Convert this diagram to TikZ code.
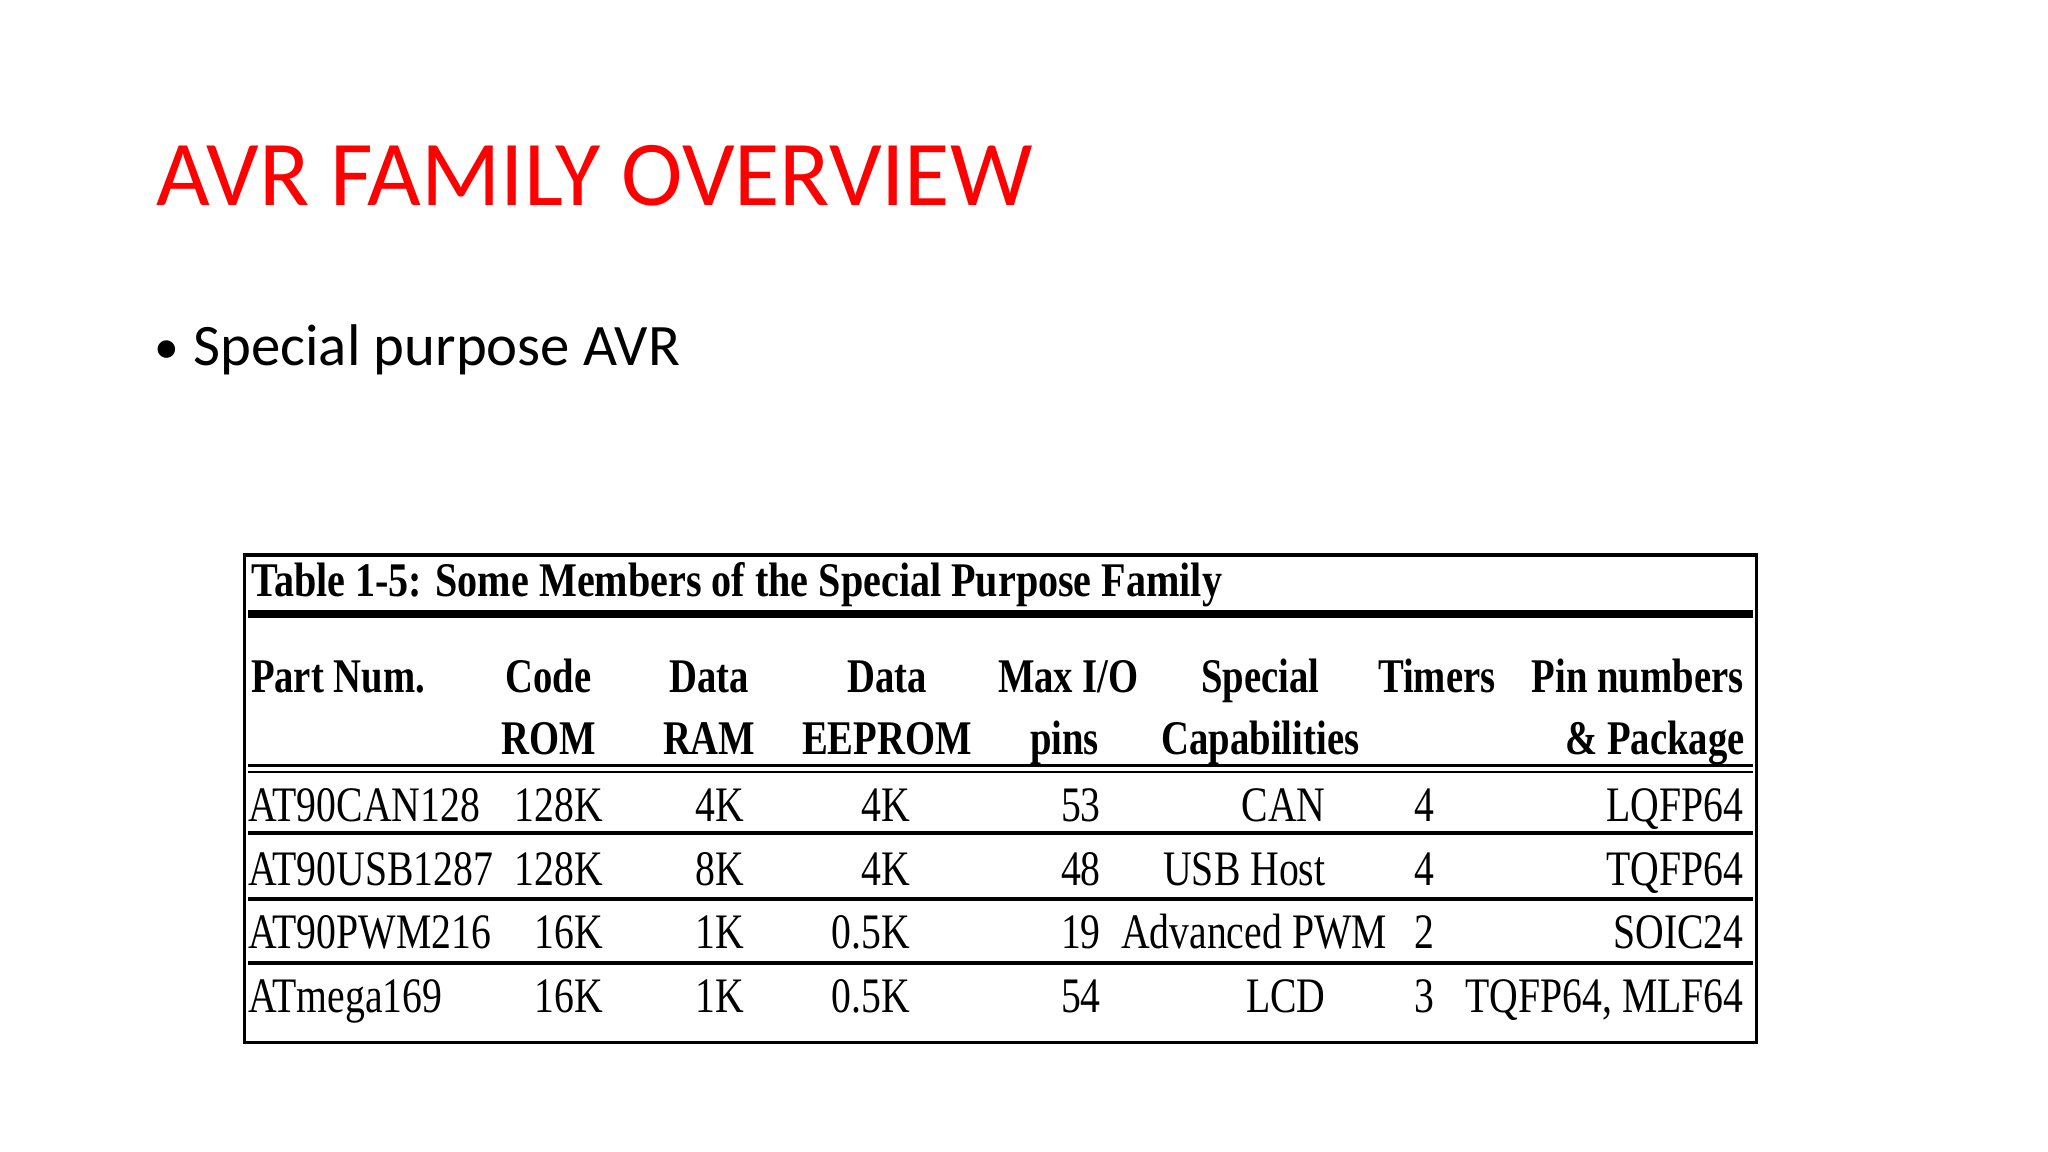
\documentclass[tikz,border=0pt]{standalone}
\usepackage{fontspec}
\setmainfont{Liberation Serif}
\newfontfamily\calfont{Carlito}
\newcommand\cn[1]{\scalebox{0.8}[1]{#1}}
\begin{document}
\begin{tikzpicture}[x=1pt,y=-1pt,
  t/.style={inner sep=0pt,font=\fontsize{38}{40}\selectfont},
  h/.style={inner sep=0pt,font=\fontsize{37}{40}\selectfont\bfseries},
  rl/.style={line width=3pt}]
\useasboundingbox (0,0) rectangle (1568,882);
\node[anchor=base west,inner sep=0pt,text=red,font=\calfont\fontsize{71}{74}\selectfont] (title) at (120,157) {AVR FAMILY OVERVIEW};
\node[anchor=base west,inner sep=0pt,font=\calfont\fontsize{38}{44}\selectfont] (dot) at (118,278) {\textbullet};
\node[anchor=base west,inner sep=0pt,font=\calfont\fontsize{45}{48}\selectfont] (bul) at (148,280) {Special purpose AVR};
\draw[line width=2.5pt] (187,425) rectangle (1345,798);
\draw[line width=6pt] (190,470) -- (1342,470);
\draw[line width=2pt] (190,586) -- (1342,586);
\draw[line width=2pt] (190,591) -- (1342,591);
\draw[rl] (190,638) -- (1342,638);
\draw[rl] (190,688) -- (1342,688);
\draw[rl] (190,737) -- (1342,737);
\node[h,anchor=base west] (cap) at (192,457) {\scalebox{0.83}[1]{Table 1-5: Some Members of the Special Purpose Family}};
\node[h,anchor=base west] (h1) at (192,530) {\cn{Part Num.}};
\node[h,anchor=base] at (420,530) {\cn{Code}}; \node[h,anchor=base] at (420,578) {\cn{ROM}};
\node[h,anchor=base] at (543,530) {\cn{Data}}; \node[h,anchor=base] at (543,578) {\cn{RAM}};
\node[h,anchor=base] at (679,530) {\cn{Data}}; \node[h,anchor=base] at (679,578) {\cn{EEPROM}};
\node[h,anchor=base] at (818,530) {\cn{Max I/O}}; \node[h,anchor=base] at (815,578) {\cn{pins}};
\node[h,anchor=base] at (965,530) {\cn{Special}}; \node[h,anchor=base] at (965,578) {\cn{Capabilities}};
\node[h,anchor=base] at (1100,530) {\cn{Timers}};
\node[h,anchor=base east] at (1335,530) {\cn{Pin numbers}};
\node[h,anchor=base east] at (1336,578) {\cn{\& Package}};
\foreach \y/\a/\b/\c/\d/\e/\g/\h in {
 629/AT90CAN128/128K/4K/4K/53/4/LQFP64,
 678/AT90USB1287/128K/8K/4K/48/4/TQFP64,
 726/AT90PWM216/16K/1K/0.5K/19/2/SOIC24,
 775/ATmega169/16K/1K/0.5K/54/3/{TQFP64, MLF64}}{
 \node[t,anchor=base west] at (190,\y) {\cn{\a}};
 \node[t,anchor=base east] at (462,\y) {\cn{\b}};
 \node[t,anchor=base east] at (570,\y) {\cn{\c}};
 \node[t,anchor=base east] at (697,\y) {\cn{\d}};
 \node[t,anchor=base east] at (843,\y) {\cn{\e}};
 \node[t,anchor=base west] at (1083,\y) {\cn{\g}};
 \node[t,anchor=base east] at (1335,\y) {\cn{\h}};
}
\node[t,anchor=base east] at (1015,629) {\cn{CAN}};
\node[t,anchor=base east] at (1015,678) {\cn{USB Host}};
\node[t,anchor=base east] at (1062,726) {\cn{Advanced PWM}};
\node[t,anchor=base east] at (1015,775) {\cn{LCD}};
\end{tikzpicture}
\end{document}
